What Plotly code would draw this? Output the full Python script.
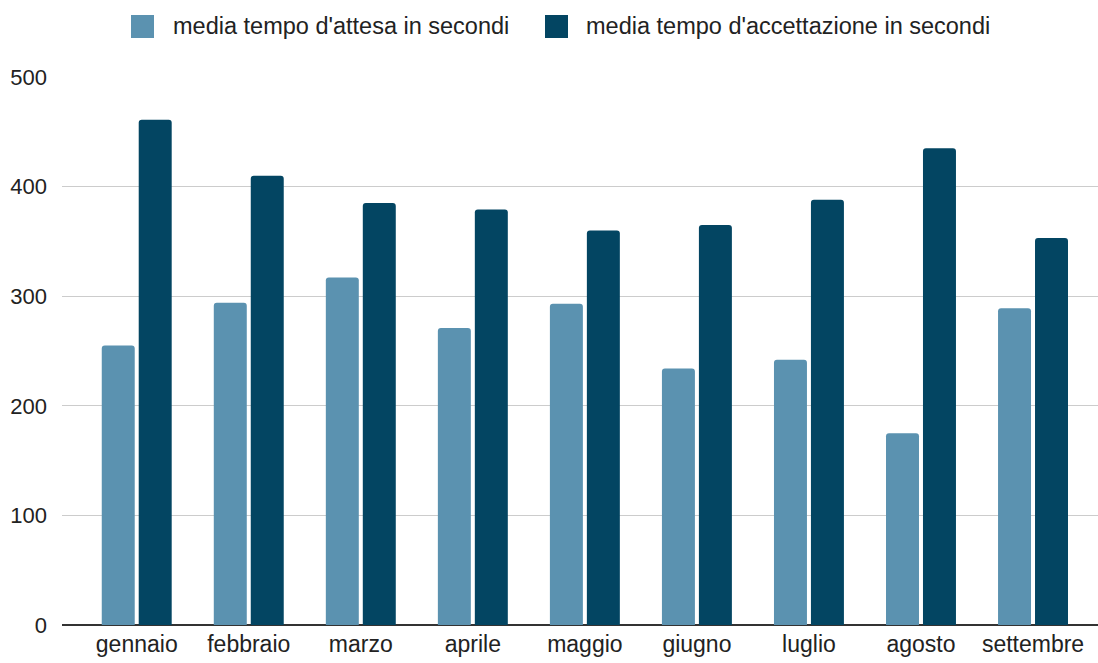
import plotly.graph_objects as go

mesi = ["gennaio", "febbraio", "marzo", "aprile", "maggio", "giugno", "luglio", "agosto", "settembre"]
attesa = [255, 294, 317, 271, 293, 234, 242, 175, 289]
accettazione = [461, 410, 385, 379, 360, 365, 388, 435, 353]
nome_attesa = "media tempo d'attesa in secondi"
nome_accett = "media tempo d'accettazione in secondi"

col_light = "#5b92b0"
col_dark = "#034562"
font_fam = "Liberation Sans, Arial, sans-serif"

W, H = 1098, 663
L, R, T, B = 62, 0, 77, 38

fig = go.Figure()
fig.add_trace(go.Bar(x=mesi, y=attesa, name=nome_attesa,
                     marker=dict(color=col_light, cornerradius=3, line=dict(width=0))))
fig.add_trace(go.Bar(x=mesi, y=accettazione, name=nome_accett,
                     marker=dict(color=col_dark, cornerradius=3, line=dict(width=0))))

def px_x(p):
    return (p - L) / (W - L - R)

def px_y(p):
    return (H - B - p) / (H - B - T)

shapes = []
annotations = []
for (x0, tx, col, txt) in [(131, 171, col_light, nome_attesa), (545, 584, col_dark, nome_accett)]:
    shapes.append(dict(type="rect", xref="paper", yref="paper",
                       x0=px_x(x0), x1=px_x(x0 + 23), y0=px_y(38), y1=px_y(15),
                       fillcolor=col, line=dict(width=0), layer="above"))
    annotations.append(dict(xref="paper", yref="paper", x=px_x(tx), y=px_y(26.5),
                            xanchor="left", yanchor="middle", showarrow=False,
                            text=txt, font=dict(size=23.5, color="#222222", family=font_fam)))

fig.update_layout(
    width=W, height=H,
    margin=dict(l=L, r=R, t=T, b=B, pad=0),
    paper_bgcolor="white", plot_bgcolor="white",
    barmode="group", bargap=0.34, bargroupgap=0.108,
    showlegend=False,
    font=dict(family=font_fam, size=22, color="#222222"),
    shapes=shapes, annotations=annotations,
    xaxis=dict(range=[-0.667, 8.58], showgrid=False, showline=False, zeroline=False,
               ticks="", ticklabelstandoff=3, tickfont=dict(size=23, color="#222222"),
               fixedrange=True),
    yaxis=dict(range=[0, 500], tickvals=[0, 100, 200, 300, 400, 500],
               showgrid=True, gridcolor="#cccccc", gridwidth=1,
               zeroline=True, zerolinecolor="#333333", zerolinewidth=2,
               showline=False, ticks="", ticklabelstandoff=14,
               tickfont=dict(size=22, color="#222222"), fixedrange=True),
)

fig.write_html("out.html")
